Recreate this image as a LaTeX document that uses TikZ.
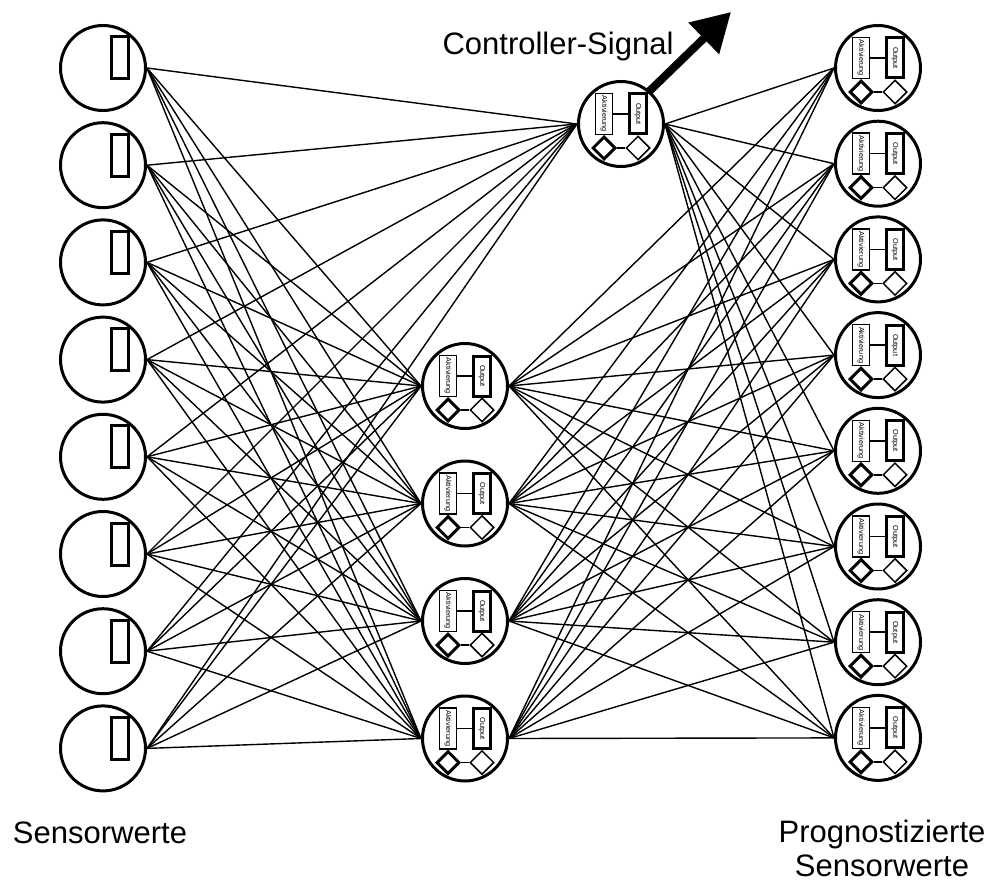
\documentclass[tikz,border=0pt]{standalone}
\usepackage{fontspec}
\setmainfont{Liberation Sans}
\usetikzlibrary{shapes.geometric,arrows.meta}
\begin{document}
\begin{tikzpicture}[x=1pt,y=-1pt,
  neuron/.style={circle,draw,line width=3pt,minimum size=85pt,inner sep=0pt},
  inbox/.style={rectangle,draw,line width=3pt,minimum width=17pt,minimum height=42pt,inner sep=0pt},
  aktbox/.style={rectangle,draw,fill=white,line width=1.5pt,rotate=-90,minimum width=41pt,minimum height=17pt,inner sep=0pt,font=\fontsize{7.3}{8}\selectfont},
  outbox/.style={rectangle,draw,fill=white,line width=3pt,rotate=-90,minimum width=40pt,minimum height=17pt,inner sep=0pt,font=\fontsize{7.3}{8}\selectfont},
  dthick/.style={diamond,draw,fill=white,line width=3pt,minimum width=23pt,minimum height=23pt,inner sep=0pt},
  dthin/.style={diamond,draw,fill=white,line width=1.5pt,minimum width=24pt,minimum height=24pt,inner sep=0pt},
  inner link/.style={line width=1.5pt},
  link/.style={line width=1.4pt},
  sigarrow/.style={line width=8pt,-{Triangle[length=38pt,width=42pt]}},
  caption/.style={font=\fontsize{31}{34}\selectfont,align=center,anchor=base,inner sep=0pt},
  inputcell/.pic={
    \node[neuron] (-c) at (0,0) {};
    \node[inbox] (-b) at (17,-10) {};
  },
  unitcell/.pic={
    \node[neuron] (-c) at (0,0) {};
    \node[aktbox] (-a) at (-17,-10) {Aktivierung};
    \node[outbox] (-o) at (17,-10) {Output};
    \draw[inner link] (-a) -- (-o);
    \node[dthick] (-dl) at (-17,24) {};
    \node[dthin] (-dr) at (17,24) {};
    \draw[inner link] (-dl) -- (-dr);
  }
]
\useasboundingbox (0,0) rectangle (996,888);

% input layer
\foreach \i [evaluate=\i as \y using {68+97.2*(\i-1)}] in {1,...,8}
  \pic (in\i) at (103,\y) {inputcell};

% hidden layer: controller unit on top, four units below
\pic (ht) at (621,124) {unitcell};
\foreach \j [evaluate=\j as \y using {386+117.5*(\j-1)}] in {1,...,4}
  \pic (h\j) at (465,\y) {unitcell};

% output layer
\foreach \k [evaluate=\k as \y using {68+95.7*(\k-1)}] in {1,...,8}
  \pic (out\k) at (878,\y) {unitcell};

% full connections
\foreach \i in {1,...,8}
  \foreach \j in {ht,h1,h2,h3,h4}
    \draw[link] (in\i-c.east) -- (\j-c.west);
\foreach \j in {ht,h1,h2,h3,h4}
  \foreach \k in {1,...,8}
    \draw[link] (\j-c.east) -- (out\k-c.west);

% controller output
\coordinate (sigtip) at (731,12);
\draw[sigarrow] (ht-o.north west) -- (sigtip);
\node[caption] (sig) at (558,55) {Controller-Signal};

% captions
\node[caption] (inlabel) at (100,843) {Sensorwerte};
\node[caption] (outlabel) at (882,876) {Prognostizierte\\Sensorwerte};
\end{tikzpicture}
\end{document}
